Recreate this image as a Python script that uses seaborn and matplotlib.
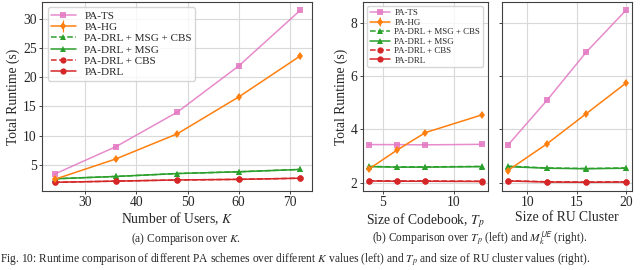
import matplotlib
matplotlib.use("Agg")
import matplotlib.pyplot as plt
import seaborn as sns

# dados
schemes = ["PA-TS", "PA-HG", "PA-DRL + MSG + CBS", "PA-DRL + MSG", "PA-DRL + CBS", "PA-DRL"]

users_k = [24, 36, 48, 60, 72]
ts_k = [3.4, 8.1, 14.0, 21.9, 31.4]
hg_k = [2.5, 6.0, 10.3, 16.6, 23.6]
hg_k_err = [0.25, 0.35, 0.35, 0.4, 0.45]
msg_cbs_k = [2.6, 3.0, 3.5, 3.8, 4.2]
msg_k = [2.6, 3.0, 3.5, 3.8, 4.2]
cbs_k = [2.0, 2.2, 2.4, 2.5, 2.7]
drl_k = [2.0, 2.2, 2.4, 2.5, 2.7]

codebook_tp = [4, 6, 8, 12]
ts_tp = [3.43, 3.43, 3.42, 3.44]
hg_tp = [2.5, 3.22, 3.88, 4.55]
hg_tp_err = [0.08, 0.08, 0.08, 0.08]
msg_cbs_tp = [2.61, 2.59, 2.59, 2.61]
msg_tp = [2.60, 2.58, 2.58, 2.60]
cbs_tp = [2.07, 2.06, 2.06, 2.05]
drl_tp = [2.06, 2.05, 2.05, 2.04]

cluster_m = [8, 12, 16, 20]
ts_m = [3.4, 5.1, 6.92, 8.48]
hg_m = [2.45, 3.46, 4.6, 5.74]
hg_m_err = [0.08, 0.08, 0.08, 0.08]
msg_cbs_m = [2.62, 2.55, 2.53, 2.55]
msg_m = [2.6, 2.54, 2.52, 2.54]
cbs_m = [2.07, 2.03, 2.02, 2.03]
drl_m = [2.06, 2.02, 2.01, 2.02]

cores = {"pink": "#e377c2", "orange": "#ff7f0e", "green": "#2ca02c", "red": "#d62728"}

sns.set_theme(style="whitegrid")
plt.rcParams["font.family"] = ["Liberation Serif", "DejaVu Serif"]
plt.rcParams["mathtext.fontset"] = "stix"
plt.rcParams["axes.edgecolor"] = "0.25"
plt.rcParams["axes.linewidth"] = 0.8
plt.rcParams["grid.color"] = "0.85"
plt.rcParams["grid.linewidth"] = 0.8
plt.rcParams["xtick.bottom"] = True
plt.rcParams["ytick.left"] = True
plt.rcParams["xtick.major.size"] = 2.5
plt.rcParams["ytick.major.size"] = 2.5
plt.rcParams["xtick.major.width"] = 0.6
plt.rcParams["ytick.major.width"] = 0.6


def desenha(ax, x, ts, hg, hg_err, msg_cbs, msg, cbs, drl):
    lw = 1.1
    ms = 4.5
    sns.lineplot(x=x, y=ts, ax=ax, color=cores["pink"], marker="s", markersize=ms,
                 markeredgewidth=0, linewidth=lw, label=schemes[0], alpha=0.85)
    ax.errorbar(x, hg, yerr=hg_err, color=cores["orange"], marker="d", markersize=ms,
                markeredgewidth=0, linewidth=lw, elinewidth=0.8, label=schemes[1])
    sns.lineplot(x=x, y=msg_cbs, ax=ax, color=cores["green"], marker="^", markersize=ms,
                 markeredgewidth=0, linewidth=lw, linestyle="--", label=schemes[2])
    sns.lineplot(x=x, y=msg, ax=ax, color=cores["green"], marker="^", markersize=ms,
                 markeredgewidth=0, linewidth=lw, label=schemes[3])
    sns.lineplot(x=x, y=cbs, ax=ax, color=cores["red"], marker="o", markersize=ms,
                 markeredgewidth=0, linewidth=lw, linestyle="--", label=schemes[4])
    sns.lineplot(x=x, y=drl, ax=ax, color=cores["red"], marker="o", markersize=ms,
                 markeredgewidth=0, linewidth=lw, label=schemes[5])


def legenda(ax, fs, htp):
    handles, labels = ax.get_legend_handles_labels()
    ordem = dict(zip(labels, handles))
    ax.legend([ordem[s] for s in schemes], schemes, loc="upper left", fontsize=fs,
              handlelength=2.2, labelspacing=0.14, borderpad=0.3,
              handletextpad=htp, framealpha=0.8)


fig = plt.figure(figsize=(6.4, 2.7), dpi=100)
ax_k = fig.add_axes([0.066, 0.293, 0.422, 0.70])
ax_tp = fig.add_axes([0.567, 0.293, 0.195, 0.70])
ax_m = fig.add_axes([0.784, 0.293, 0.203, 0.70], sharey=ax_tp)

desenha(ax_k, users_k, ts_k, hg_k, hg_k_err, msg_cbs_k, msg_k, cbs_k, drl_k)
desenha(ax_tp, codebook_tp, ts_tp, hg_tp, hg_tp_err, msg_cbs_tp, msg_tp, cbs_tp, drl_tp)
desenha(ax_m, cluster_m, ts_m, hg_m, hg_m_err, msg_cbs_m, msg_m, cbs_m, drl_m)

ax_k.set_yticks([5, 10, 15, 20, 25, 30])
ax_k.set_xticks([30, 40, 50, 60, 70])
ax_tp.set_yticks([2, 4, 6, 8])
ax_tp.set_xticks([5, 10])
ax_m.set_xticks([10, 15, 20])
ax_m.tick_params(labelleft=False)

for ax in (ax_k, ax_tp, ax_m):
    ax.tick_params(labelsize=9.8, pad=1.5)

ax_k.set_xlabel("Number of Users, $K$", fontsize=9.8, labelpad=1)
ax_k.set_ylabel("Total Runtime (s)", fontsize=9.8, labelpad=2)
ax_tp.set_xlabel("Size of Codebook, $T_p$", fontsize=9.8, labelpad=1)
ax_tp.set_ylabel("Total Runtime (s)", fontsize=9.8, labelpad=2)
ax_m.set_xlabel("Size of RU Cluster", fontsize=9.8, labelpad=1)
ax_m.set_ylabel("")

legenda(ax_k, 8, 0.8)
legenda(ax_tp, 6.4, 0.55)
ax_m.get_legend().remove()

fig.text(0.29, 0.115, "(a) Comparison over $K$.", fontsize=8.3, ha="center", va="center")
fig.text(0.75, 0.115, r"(b) Comparison over $T_p$ (left) and $M_k^{\mathsf{UE}}$ (right).",
         fontsize=8.3, ha="center", va="center")
fig.text(0.0, 0.008, "Fig. 10: Runtime comparison of different PA schemes over different $K$ values "
         "(left) and $T_p$ and size of RU cluster values (right).",
         fontsize=8.3, ha="left", va="bottom")

fig.savefig("out.png", dpi=100)
